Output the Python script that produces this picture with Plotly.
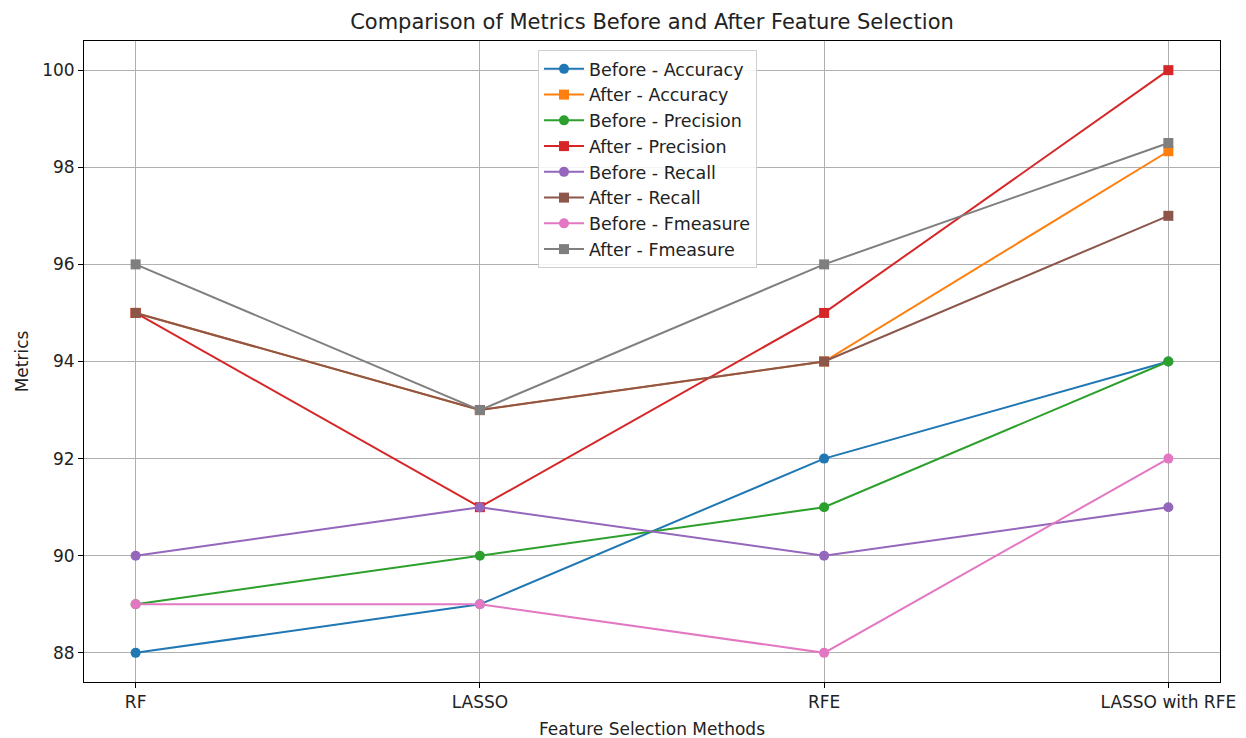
import plotly.graph_objects as go

methods = ["RF", "LASSO", "RFE", "LASSO with RFE"]
before_accuracy = [88, 89, 92, 94]
after_accuracy = [95, 93, 94, 98.33]
before_precision = [89, 90, 91, 94]
after_precision = [95, 91, 95, 100]
before_recall = [90, 91, 90, 91]
after_recall = [95, 93, 94, 97]
before_fmeasure = [89, 89, 88, 92]
after_fmeasure = [96, 93, 96, 98.5]
y_ticks = [88, 90, 92, 94, 96, 98, 100]

series = [
    ("Before - Accuracy", before_accuracy, "#1f77b4", "circle"),
    ("After - Accuracy", after_accuracy, "#ff7f0e", "square"),
    ("Before - Precision", before_precision, "#2ca02c", "circle"),
    ("After - Precision", after_precision, "#d62728", "square"),
    ("Before - Recall", before_recall, "#9467bd", "circle"),
    ("After - Recall", after_recall, "#8c564b", "square"),
    ("Before - Fmeasure", before_fmeasure, "#e377c2", "circle"),
    ("After - Fmeasure", after_fmeasure, "#7f7f7f", "square"),
]

fig = go.Figure()
for name, vals, color, sym in series:
    fig.add_trace(go.Scatter(
        x=list(range(len(methods))), y=vals, name=name, mode="lines+markers",
        line=dict(color=color, width=2),
        marker=dict(color=color, symbol=sym, size=10),
    ))

font = "DejaVu Sans, sans-serif"
fig.update_layout(
    width=1246, height=738,
    margin=dict(l=76, r=34, t=33, b=64),
    paper_bgcolor="white", plot_bgcolor="white",
    font=dict(family=font, size=17, color="#222"),
    title=dict(text="Comparison of Metrics Before and After Feature Selection",
               x=(652 - 8) / 1246, xanchor="center", y=1 - 14 / 738, yanchor="middle",
               font=dict(size=21, color="#222")),
    legend=dict(x=(538 - 84) / 1136, y=1 - 9 / 642, xanchor="left", yanchor="top",
                bgcolor="rgba(255,255,255,0.85)", bordercolor="#d0d0d0",
                borderwidth=1, font=dict(size=17.5, color="#222"),
                tracegroupgap=0, itemwidth=40),
    showlegend=True,
)
fig.update_xaxes(
    range=[-0.15, 3.15], tickmode="array", tickvals=list(range(len(methods))),
    ticktext=methods, showgrid=True, gridcolor="#b0b0b0", gridwidth=1,
    showline=True, linecolor="black", linewidth=1, mirror=True,
    ticks="outside", ticklen=5, tickcolor="black", zeroline=False,
    tickfont=dict(size=17),
    title=dict(text="Feature Selection Methods", font=dict(size=17), standoff=11),
)
fig.update_yaxes(
    range=[87.4, 100.6], tickmode="array", tickvals=y_ticks,
    showgrid=True, gridcolor="#b0b0b0", gridwidth=1,
    showline=True, linecolor="black", linewidth=1, mirror=True,
    ticks="outside", ticklen=5, tickcolor="black", zeroline=False,
    tickfont=dict(size=17),
    title=dict(text="Metrics", font=dict(size=17), standoff=9),
)
fig.write_html("out.html")
